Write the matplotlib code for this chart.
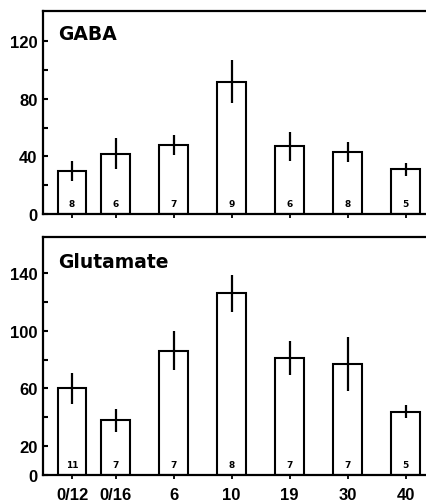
import matplotlib
matplotlib.use("Agg")
import matplotlib.pyplot as plt
import numpy as np

# x categories (days) and bar positions on the axis
labels = ["0/12", "0/16", "6", "10", "19", "30", "40"]
positions = [0, 0.75, 1.75, 2.75, 3.75, 4.75, 5.75]

gaba_mean = [30, 42, 48, 92, 47, 43, 31]
gaba_err = [7, 11, 7, 15, 10, 7, 4.5]
gaba_n = ["8", "6", "7", "9", "6", "8", "5"]

glu_mean = [60, 38, 86, 126, 81, 77, 44]
glu_err = [11, 8, 13.5, 13, 12, 19, 4.5]
glu_n = ["11", "7", "7", "8", "7", "7", "5"]

plt.rcParams['font.family'] = ['Liberation Sans', 'DejaVu Sans']
plt.rcParams['font.weight'] = 'bold'

fig = plt.figure(figsize=(4.26, 5.02), dpi=100)
ax1 = fig.add_axes([0.101, 0.5717, 0.899, 0.4044])
ax2 = fig.add_axes([0.101, 0.0518, 0.899, 0.4741])


def draw_panel(ax, means, errs, ns, title, ymax, major, minor, show_labels):
    ax.bar(positions, means, width=0.49, facecolor='white', edgecolor='black',
           linewidth=1.5, zorder=2)
    ax.errorbar(positions, means, yerr=errs, fmt='none', ecolor='black',
                elinewidth=1.6, capsize=0, zorder=3)
    for x, n in zip(positions, ns):
        ax.text(x, 7, n, ha='center', va='center', fontsize=6.5,
                fontweight='bold', family='DejaVu Sans', zorder=4)
    ax.set_xlim(-0.5, 6.103)
    ax.set_ylim(0, ymax)
    ax.set_yticks(major)
    ax.set_yticks(minor, minor=True)
    ax.set_xticks(positions)
    if show_labels:
        ax.set_xticklabels(labels)
    else:
        ax.set_xticklabels([])
    ax.tick_params(axis='y', which='both', direction='in', length=3.5,
                   width=1.5, labelsize=12, pad=4)
    ax.tick_params(axis='x', direction='out', length=3, width=1.3,
                   labelsize=12, pad=6)
    for s in ['left', 'top', 'bottom']:
        ax.spines[s].set_linewidth(1.6)
    ax.spines['right'].set_visible(False)
    ax.text(0.04, 0.935, title, transform=ax.transAxes, ha='left', va='top',
            fontsize=13.5, fontweight='bold', family='DejaVu Sans')


draw_panel(ax1, gaba_mean, gaba_err, gaba_n, "GABA", 141,
           [0, 40, 80, 120], [20, 60, 100], False)
draw_panel(ax2, glu_mean, glu_err, glu_n, "Glutamate", 165,
           [0, 20, 60, 100, 140], [40, 80, 120], True)

fig.savefig("out.png", dpi=100)
